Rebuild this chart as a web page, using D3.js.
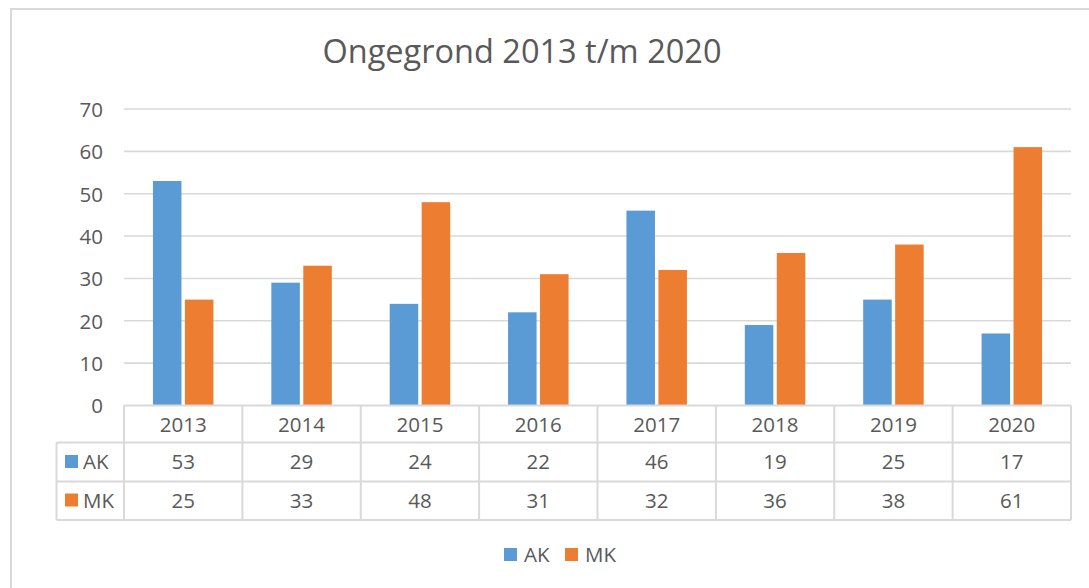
<!DOCTYPE html>
<html><head><meta charset="utf-8">
<script src="https://cdn.jsdelivr.net/npm/d3@7"></script>
<style>html,body{margin:0;padding:0;background:#fff;}svg{display:block;font-family:"Open Sans",sans-serif;}</style>
</head><body>
<svg id="c" width="1089" height="588"></svg>
<script>
const title = "Ongegrond 2013 t/m 2020";
const years = ["2013","2014","2015","2016","2017","2018","2019","2020"];
const seriesNames = ["AK","MK"];
const akValues = [53,29,24,22,46,19,25,17];
const mkValues = [25,33,48,31,32,36,38,61];
const yTicks = [0,10,20,30,40,50,60,70];
const colors = ["#5B9BD5","#ED7D31"];

const series = [akValues, mkValues];
const svg = d3.select("#c");
const textCol = "#595959", lineCol = "#d9d9d9";
const L = 124, R = 1071, T = 109, B = 405.5;
const tableLeft = 56.5, rowB = [442.5, 481.5, 520];
const fs = 20.5;

svg.append("rect").attr("x",11).attr("y",9).attr("width",1100).attr("height",600)
  .attr("fill","#fff").attr("stroke",lineCol).attr("stroke-width",2);

svg.append("text").attr("x",522).attr("y",63).attr("text-anchor","middle")
  .attr("font-size",32.5).attr("fill",textCol).text(title);

const x = d3.scaleBand().domain(years).range([L,R]);
const y = d3.scaleLinear().domain([0,70]).range([B,T]);

// gridlines
svg.append("g").selectAll("line").data(yTicks.filter(d=>d>0)).join("line")
  .attr("x1",L).attr("x2",R).attr("y1",d=>y(d)).attr("y2",d=>y(d))
  .attr("stroke",lineCol).attr("stroke-width",1.6);

// y axis labels via d3 axis
const ya = svg.append("g").attr("transform",`translate(${L},0)`)
  .call(d3.axisLeft(y).tickValues(yTicks).tickSize(0).tickPadding(21));
ya.select(".domain").remove();
ya.selectAll("text").attr("font-size",fs).attr("fill",textCol).attr("font-family","Open Sans").attr("dy","0.36em");

// bars
const bw = 27, gap = 6.5;
const xs = d3.scaleBand().domain(seriesNames).range([0, 2*bw+gap]).paddingInner(gap/(2*bw+gap));
series.forEach((vals,si)=>{
  svg.append("g").selectAll("rect").data(vals).join("rect")
    .attr("x",(d,i)=>x(years[i]) + (x.bandwidth() - (2*bw+gap))/2 + xs(seriesNames[si]))
    .attr("width",xs.bandwidth())
    .attr("y",d=>y(d)).attr("height",d=>y(0)-y(d))
    .attr("fill",colors[si]);
});

// data table
const tg = svg.append("g").attr("stroke",lineCol).attr("stroke-width",2).attr("fill","none");
tg.append("line").attr("x1",L).attr("x2",R).attr("y1",B).attr("y2",B);
rowB.forEach(yy=>tg.append("line").attr("x1",tableLeft).attr("x2",R).attr("y1",yy).attr("y2",yy));
const vxs = years.map(d=>x(d)).concat([R]);
vxs.forEach(xx=>tg.append("line").attr("x1",xx).attr("x2",xx).attr("y1",B).attr("y2",rowB[2]));
tg.append("line").attr("x1",tableLeft).attr("x2",tableLeft).attr("y1",rowB[0]).attr("y2",rowB[2]);

svg.append("g").selectAll("text").data(years).join("text")
  .attr("x",d=>x(d)+x.bandwidth()/2).attr("y",431.5).attr("text-anchor","middle")
  .attr("font-size",fs).attr("fill",textCol).text(d=>d);

const rowBase = [469, 507.5];
series.forEach((vals,si)=>{
  svg.append("g").selectAll("text").data(vals).join("text")
    .attr("x",(d,i)=>x(years[i])+x.bandwidth()/2).attr("y",rowBase[si]).attr("text-anchor","middle")
    .attr("font-size",fs).attr("fill",textCol).text(d=>d);
  svg.append("rect").attr("x",65).attr("y",rowBase[si]-14).attr("width",13).attr("height",13).attr("fill",colors[si]);
  svg.append("text").attr("x",83).attr("y",rowBase[si]).attr("font-size",fs).attr("fill",textCol).text(seriesNames[si]);
});

// legend
const legX = [504, 565];
seriesNames.forEach((n,si)=>{
  svg.append("rect").attr("x",legX[si]).attr("y",548).attr("width",13).attr("height",13).attr("fill",colors[si]);
  svg.append("text").attr("x",legX[si]+20).attr("y",562).attr("font-size",fs).attr("fill",textCol).text(n);
});
</script>
</body></html>
